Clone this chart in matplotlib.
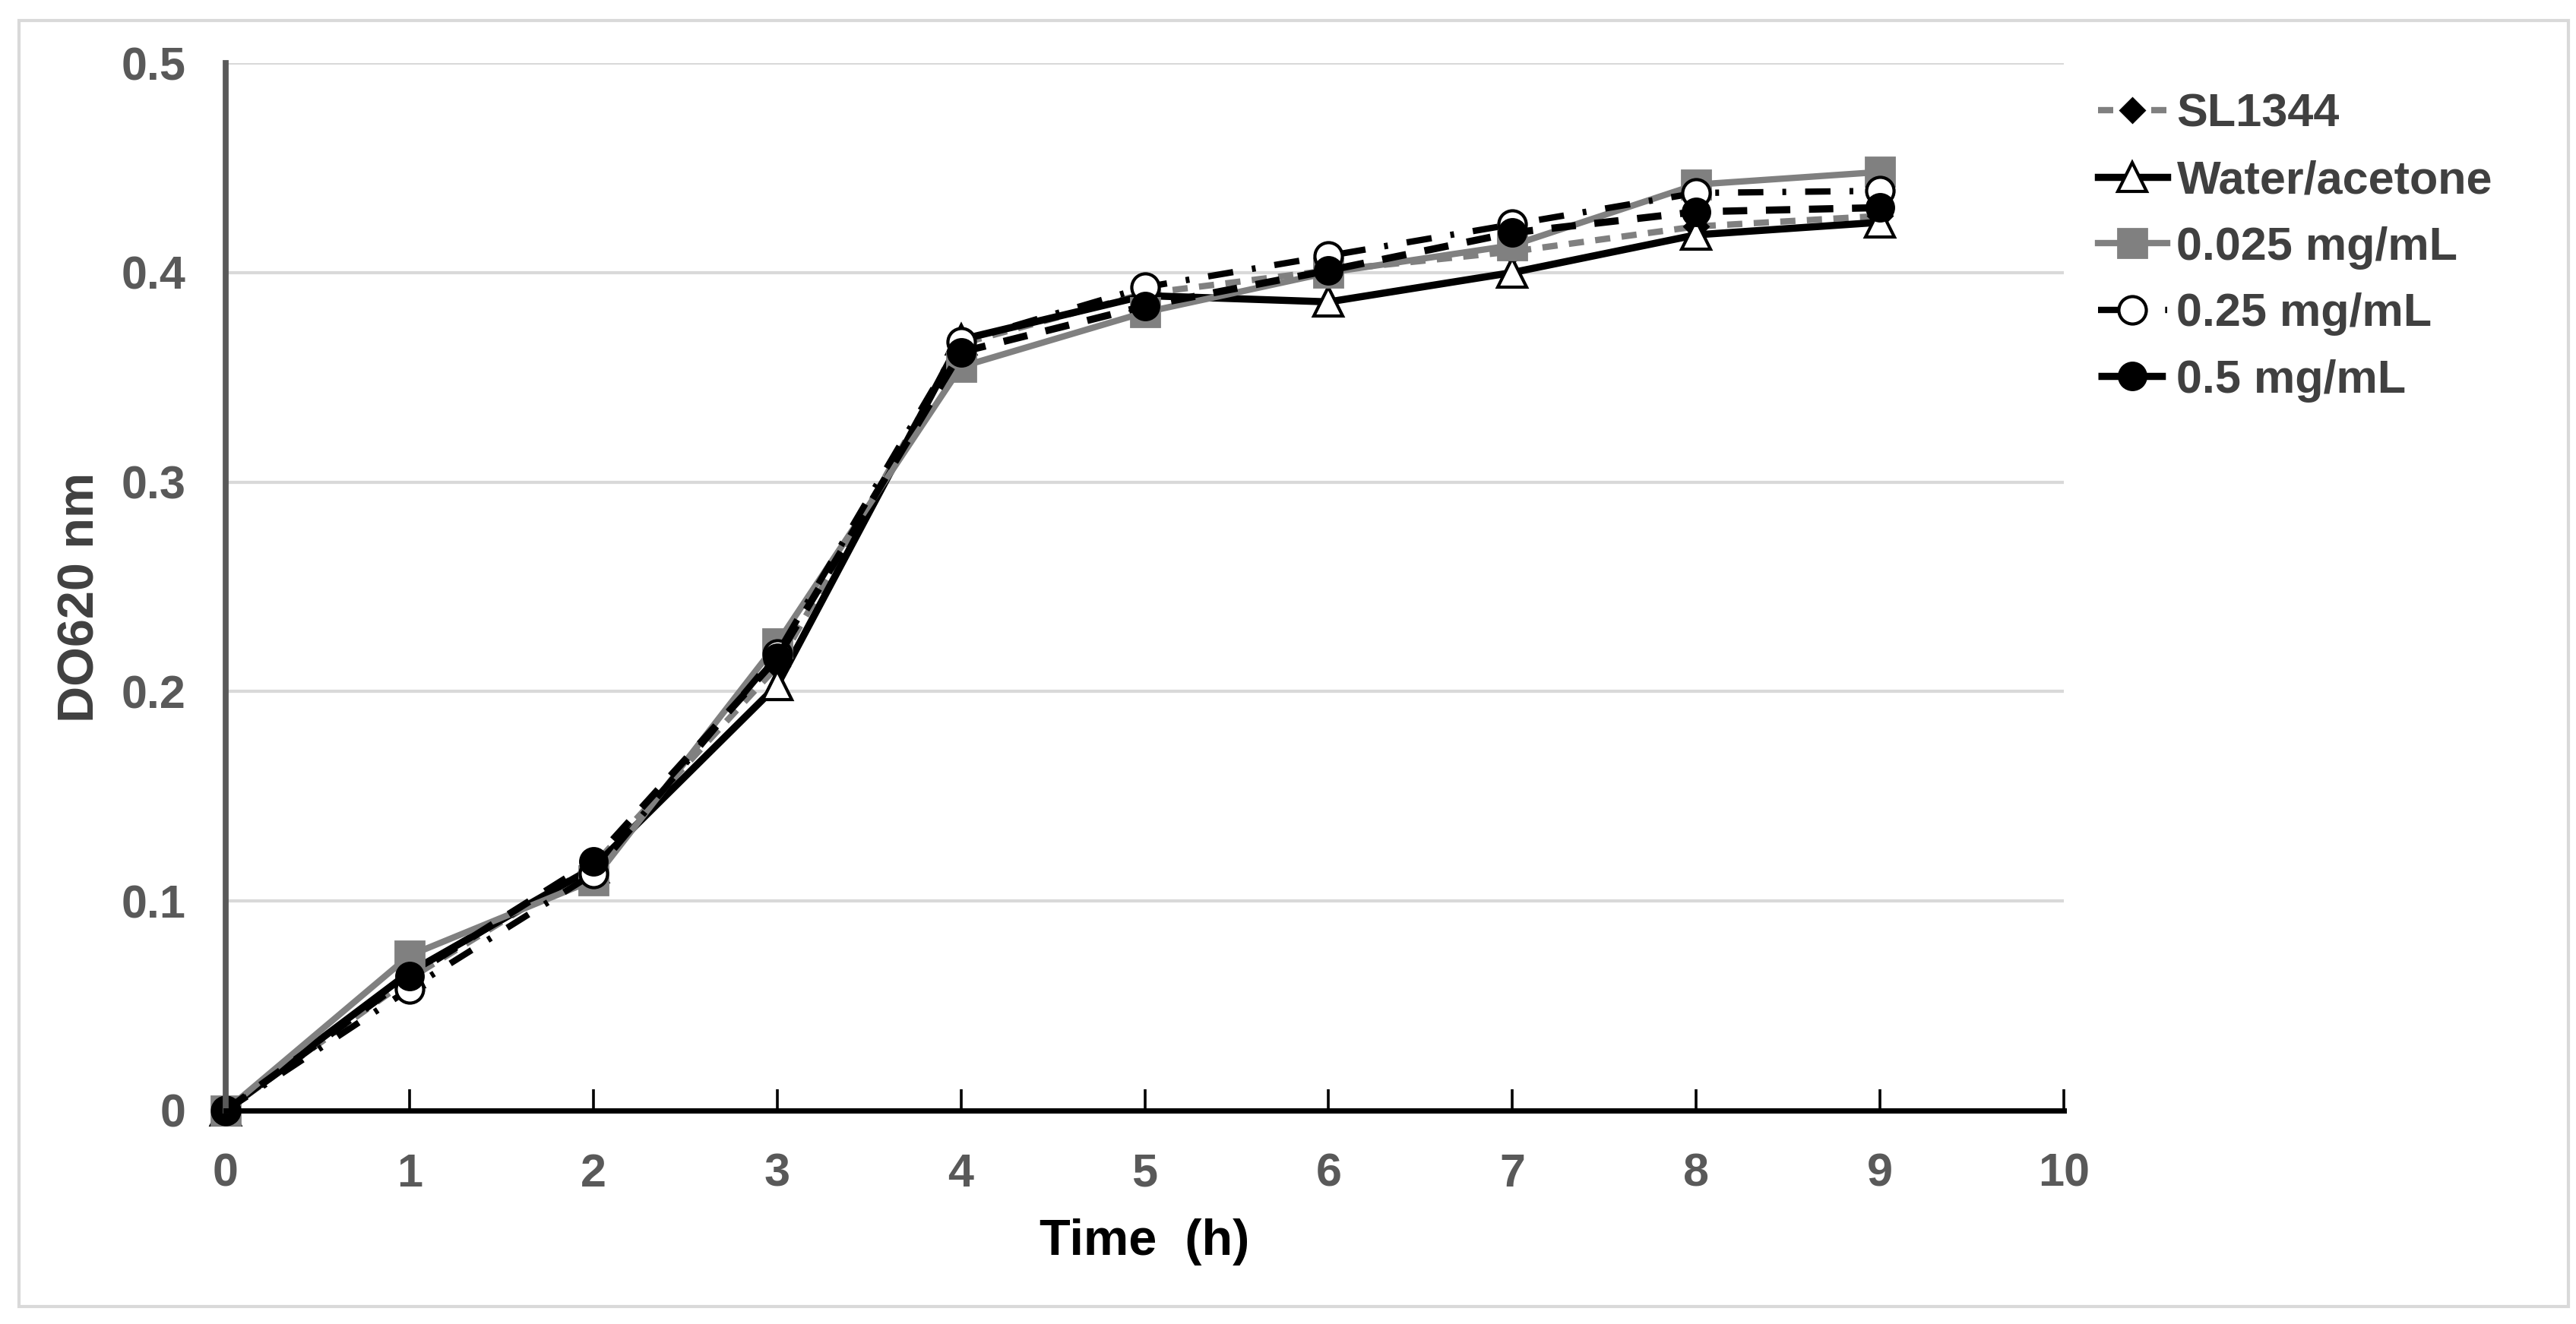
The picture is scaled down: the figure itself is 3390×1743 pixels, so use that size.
import matplotlib
matplotlib.use('Agg')
import matplotlib.pyplot as plt
from matplotlib.patches import Rectangle

plt.rcParams['font.family'] = ['Liberation Sans', 'DejaVu Sans']
plt.rcParams['font.weight'] = 'bold'

# data
time_h = [0, 1, 2, 3, 4, 5, 6, 7, 8, 9]
sl1344 = [0.0, 0.063, 0.117, 0.212, 0.366, 0.390, 0.401, 0.410, 0.422, 0.427]
water_acetone = [0.0, 0.066, 0.116, 0.203, 0.368, 0.389, 0.386, 0.400, 0.418, 0.424]
conc_0025 = [0.0, 0.074, 0.110, 0.223, 0.355, 0.381, 0.400, 0.413, 0.442, 0.448]
conc_025 = [0.0, 0.058, 0.113, 0.218, 0.367, 0.393, 0.408, 0.423, 0.438, 0.439]
conc_05 = [0.0, 0.064, 0.119, 0.216, 0.362, 0.384, 0.401, 0.419, 0.429, 0.431]

labels = ['SL1344', 'Water/acetone', '0.025 mg/mL', '0.25 mg/mL', '0.5 mg/mL']
y_ticks = [0, 0.1, 0.2, 0.3, 0.4, 0.5]
y_tick_labels = ['0', '0.1', '0.2', '0.3', '0.4', '0.5']
x_ticks = list(range(0, 11))

W, H, DPI = 3390, 1743, 200
fig = plt.figure(figsize=(W / DPI, H / DPI), dpi=DPI)
ax = fig.add_axes([297 / W, 1 - 1462 / H, (2716 - 297) / W, (1462 - 83) / H])

grey = '#808080'
dark = '#595959'

ax.plot(time_h, sl1344, color=grey, lw=3.0, ls=(0, (2.4, 1.8)),
        marker='D', ms=8, mfc='black', mec='black', label=labels[0], clip_on=False)
ax.plot(time_h, water_acetone, color='black', lw=3.4, ls='-',
        marker='^', ms=14, mfc='white', mec='black', mew=1.5, label=labels[1], clip_on=False)
ax.plot(time_h, conc_0025, color=grey, lw=3.0, ls='-',
        marker='s', ms=13.5, mfc=grey, mec=grey, label=labels[2], clip_on=False)
ax.plot(time_h, conc_025, color='black', lw=3.0, ls=(0, (4, 3, 0.6, 3)),
        marker='o', ms=13, mfc='white', mec='black', mew=1.5, label=labels[3], clip_on=False)
ax.plot(time_h, conc_05, color='black', lw=3.4, ls=(0, (3.4, 2.6)),
        marker='o', ms=13, mfc='black', mec='black', label=labels[4], clip_on=False)

ax.set_xlim(0, 10)
ax.set_ylim(0, 0.5)
ax.set_xticks(x_ticks)
ax.set_yticks(y_ticks)
ax.set_yticklabels(y_tick_labels)

ax.grid(axis='y', color='#d9d9d9', lw=1.5)
ax.set_axisbelow(True)
for s in ['top', 'right']:
    ax.spines[s].set_visible(False)
ax.spines['left'].set_color(dark)
ax.spines['left'].set_linewidth(2.8)
ax.spines['bottom'].set_color('black')
ax.spines['bottom'].set_linewidth(2.5)

ax.tick_params(axis='y', length=0, pad=19, labelsize=22, labelcolor=dark)
ax.tick_params(axis='x', direction='in', length=10, width=1.3, color='black',
               pad=20, labelsize=22, labelcolor=dark)

ax.set_xlabel('Time  (h)', fontsize=24, fontweight='bold', color='black')
ax.xaxis.set_label_coords(0.5, -0.103)
ax.xaxis.label.set_va('top')
ax.set_ylabel('DO620 nm', fontsize=24, fontweight='bold', color='#404040')
ax.yaxis.set_label_coords(-0.066, 0.49)

leg = fig.legend(loc='upper left', bbox_to_anchor=(2730 / W, 1 - 92 / H),
                 frameon=False, fontsize=22, handlelength=1.5,
                 handletextpad=0.2, labelspacing=0.5, borderpad=0)
for t in leg.get_texts():
    t.set_color('#404040')
    t.set_fontweight('bold')

# light frame round the whole chart
fig.patches.append(Rectangle((25 / W, 1 - 1720 / H), (3380 - 25) / W, (1720 - 27) / H,
                             transform=fig.transFigure, fill=False,
                             edgecolor='#d9d9d9', lw=1.5))

fig.savefig('out.png', dpi=DPI, facecolor='white')
